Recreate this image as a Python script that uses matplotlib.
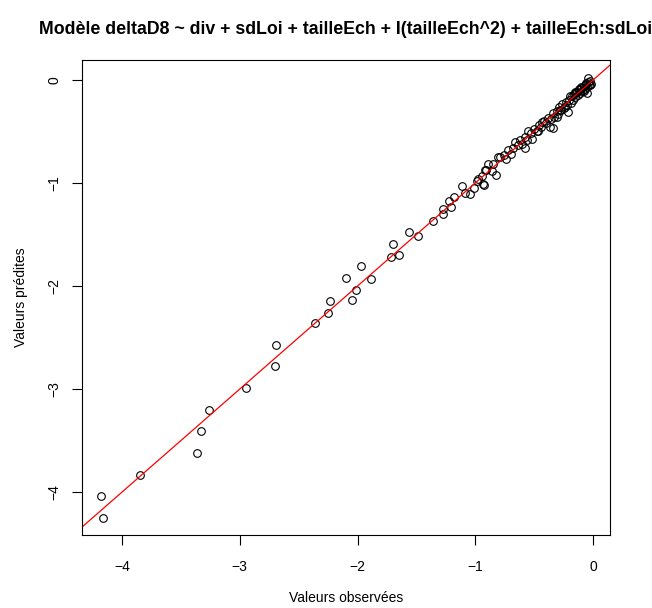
import matplotlib
matplotlib.use("Agg")
import matplotlib.pyplot as plt
import numpy as np

plt.rcParams['font.family'] = ['Liberation Sans', 'DejaVu Sans']

title = "Modèle deltaD8 ~ div + sdLoi + tailleEch + I(tailleEch^2) + tailleEch:sdLoi"
xlabel = "Valeurs observées"
ylabel = "Valeurs prédites"

observed = [
    -4.177, -4.16, -3.846, -3.36, -3.33, -3.26, -2.95, -2.705, -2.69, -2.36,
    -2.255, -2.23, -2.046, -2.01, -2.10, -1.97, -1.885, -1.72, -1.65, -1.695,
    -1.565, -1.486, -1.356, -1.276, -1.276, -1.22, -1.21, -1.178, -1.115, -1.087,
    -1.044, -1.01, -0.987, -0.936, -0.945, -0.908, -0.889, -0.82, -0.806, -0.846,
    -0.93, -0.917, -0.79, -0.72, -0.66, -0.62, -0.577, -0.55, -0.52, -0.464,
    -0.436, -0.365, -0.337, -0.31, -0.28, -0.24, -0.21, -0.195, -0.153, -0.053,
    -0.04, -0.025,
    -0.70, -0.68, -0.64, -0.60, -0.58, -0.56, -0.53, -0.50, -0.48, -0.46,
    -0.44, -0.42, -0.40, -0.38, -0.36, -0.34, -0.33, -0.31, -0.30, -0.29,
    -0.27, -0.26, -0.25, -0.23, -0.22, -0.20, -0.19, -0.18, -0.17, -0.16,
    -0.15, -0.14, -0.13, -0.12, -0.11, -0.10, -0.09, -0.08, -0.07, -0.06,
    -0.05, -0.045, -0.035, -0.03, -0.02, -0.10, -0.12, -0.08, -0.06, -0.15,
    -0.76, -0.74, -0.86, -0.98,
]
predicted = [
    -4.04, -4.25, -3.83, -3.62, -3.41, -3.20, -2.99, -2.78, -2.57, -2.36,
    -2.26, -2.15, -2.136, -2.04, -1.92, -1.81, -1.93, -1.72, -1.70, -1.59,
    -1.48, -1.51, -1.366, -1.30, -1.255, -1.175, -1.236, -1.14, -1.03, -1.094,
    -1.11, -1.05, -0.978, -1.01, -0.93, -0.874, -0.816, -0.92, -0.745, -0.82,
    -1.02, -0.874, -0.745, -0.68, -0.60, -0.58, -0.66, -0.50, -0.57, -0.50,
    -0.405, -0.453, -0.47, -0.356, -0.29, -0.26, -0.31, -0.16, -0.13, -0.13,
    0.016, -0.05,
    -0.72, -0.66, -0.63, -0.62, -0.55, -0.58, -0.51, -0.48, -0.50, -0.44,
    -0.46, -0.40, -0.42, -0.37, -0.38, -0.32, -0.36, -0.30, -0.33, -0.26,
    -0.29, -0.23, -0.27, -0.21, -0.24, -0.19, -0.22, -0.16, -0.19, -0.14,
    -0.17, -0.12, -0.15, -0.10, -0.13, -0.08, -0.11, -0.06, -0.09, -0.04,
    -0.07, -0.02, -0.05, -0.01, -0.04, -0.07, -0.09, -0.11, -0.03, -0.12,
    -0.73, -0.77, -0.88, -0.96,
]

fig = plt.figure(figsize=(6.52, 6.08), dpi=100)
ax = fig.add_axes([82/652, 73/608, 528/652, 475/608])

ax.plot(observed, predicted, linestyle='none', marker='o', markersize=5.5,
        markerfacecolor='none', markeredgecolor='black', markeredgewidth=0.8)

ax.set_xlim(-4.34, 0.144)
ax.set_ylim(-4.417, 0.194)
ax.axline((0, 0), slope=1, color='red', linewidth=0.9)

ax.set_xticks([-4, -3, -2, -1, 0])
ax.set_yticks([-4, -3, -2, -1, 0])
ax.set_xticklabels(["\u22124", "\u22123", "\u22122", "\u22121", "0"])
ax.set_yticklabels(["\u22124", "\u22123", "\u22122", "\u22121", "0"], rotation=90, va='center')
ax.tick_params(direction='out', length=7, width=0.8, labelsize=10)
ax.tick_params(axis='x', pad=11)
ax.tick_params(axis='y', pad=8)
for s in ax.spines.values():
    s.set_linewidth(0.8)

ax.set_xlabel(xlabel, fontsize=10, labelpad=12)
ax.set_ylabel(ylabel, fontsize=10, labelpad=14)
fig.text(346/652, 1 - 30/608, title, ha='center', va='center',
         fontsize=12.8, fontweight='bold')

fig.savefig("out.png", dpi=100)
